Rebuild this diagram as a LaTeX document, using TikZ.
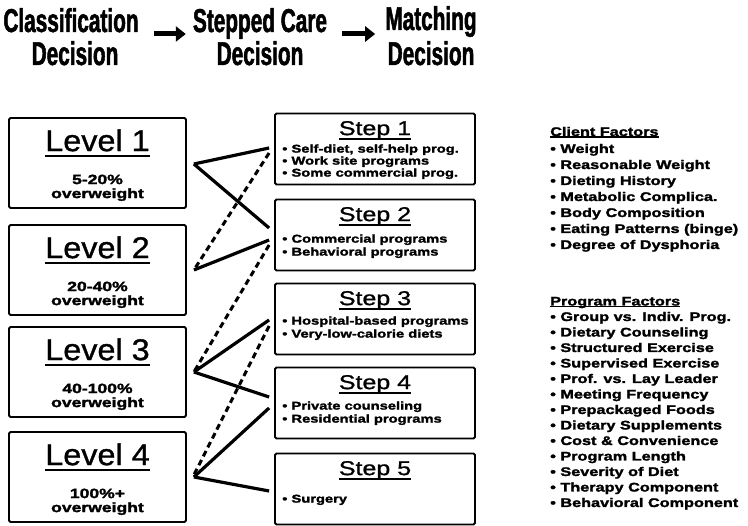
\documentclass[tikz,border=0pt]{standalone}
\usepackage{fontspec}
\setmainfont{Liberation Sans}
\newfontfamily\headfont[FakeStretch=0.63, BoldFeatures={FakeBold=1.5}]{Liberation Sans}
\newfontfamily\widefont[FakeStretch=1.3, BoldFeatures={FakeBold=2}]{Liberation Sans}
\newfontfamily\stepfont[FakeStretch=1.25, FakeBold=1]{Liberation Sans}
\newfontfamily\levelfont[FakeStretch=1.08, FakeBold=1]{Liberation Sans}
\usetikzlibrary{positioning,arrows.meta}
\newcommand{\ulbox}[3]{\setbox0\hbox{#3}\leavevmode\rlap{\rule[-#1]{\wd0}{#2}}\box0}
\tikzset{
    head/.style={font=\headfont\bfseries\fontsize{33}{36}\selectfont, inner sep=0pt, anchor=base},
    levelbox/.style={draw, line width=1.8pt, rounded corners=1.5pt, minimum width=177pt, minimum height=90pt},
    stepbox/.style={draw, line width=1.8pt, rounded corners=1.5pt, minimum width=200pt, minimum height=71pt},
    leveltitle/.style={font=\levelfont\fontsize{30}{32}\selectfont, inner sep=0pt, anchor=base},
    steptitle/.style={font=\stepfont\fontsize{20}{22}\selectfont, inner sep=0pt, anchor=base},
    pct/.style={font=\widefont\bfseries\fontsize{13.5}{14}\selectfont, inner sep=0pt, align=center, anchor=base},
    items/.style={font=\widefont\bfseries\fontsize{11.3}{13}\selectfont, inner sep=0pt, align=left, anchor=base west},
    factors/.style={font=\widefont\bfseries\fontsize{12.5}{16}\selectfont, inner sep=0pt, align=left, anchor=base west},
    link/.style={line width=3.2pt},
    dlink/.style={line width=3pt, dash pattern=on 6pt off 4pt},
    bigarrow/.style={line width=5pt, -{Triangle[length=10pt,width=15pt]}}
}
\begin{document}
\begin{tikzpicture}[x=1pt,y=-1pt]
\useasboundingbox (0,0) rectangle (748,526);
% headings
\node[head] (cls) at (71,32) {Classification};
\node[head] (clsd) at (75,65) {Decision};
\node[head] (ste) at (260,32) {Stepped Care};
\node[head] (sted) at (260,65) {Decision};
\node[head] (mat) at (431,30) {Matching};
\node[head] (matd) at (431,65) {Decision};
\draw[bigarrow] ([xshift=15pt,yshift=-2pt]cls.base east) -- ([xshift=-7pt,yshift=-2pt]ste.base west);
\draw[bigarrow] ([xshift=15pt,yshift=-2pt]ste.base east) -- ([xshift=-10pt,yshift=-4pt]mat.base west);
% levels
\node[levelbox] (lv1) at (97.5,163) {};
\node[levelbox] (lv2) at (97.5,270) {};
\node[levelbox] (lv3) at (97.5,372) {};
\node[levelbox] (lv4) at (97.5,477) {};
\foreach \n/\p in {1/5-20\%, 2/20-40\%, 3/40-100\%, 4/100\%+}{
    \node[leveltitle] (lv\n t) at ([yshift=-34pt]lv\n.north) {\ulbox{6pt}{2.5pt}{Level \n}};
    \node[pct] (lv\n p) at ([yshift=-81pt]lv\n.north) {\p\\overweight};
}
% steps
\node[stepbox] (st1) at (375,149) {};
\node[stepbox] (st2) at (375,235) {};
\node[stepbox] (st3) at (375,319) {};
\node[stepbox] (st4) at (375,403) {};
\node[stepbox] (st5) at (375,489) {};
\foreach \n in {1,...,5}
    \node[steptitle] (st\n t) at ([yshift=-22.5pt]st\n.north) {\ulbox{4.5pt}{2pt}{Step \n}};
\node[items, font=\widefont\bfseries\fontsize{11.3}{12}\selectfont] (st1i) at ([xshift=8pt,yshift=-64pt]st1.north west)
    {• Self-diet, self-help prog.\\• Work site programs\\• Some commercial prog.};
\node[items] (st2i) at ([xshift=8pt,yshift=-57pt]st2.north west)
    {• Commercial programs\\• Behavioral programs};
\node[items] (st3i) at ([xshift=8pt,yshift=-55pt]st3.north west)
    {• Hospital-based programs\\• Very-low-calorie diets};
\node[items] (st4i) at ([xshift=8pt,yshift=-56pt]st4.north west)
    {• Private counseling\\• Residential programs};
\node[items] (st5i) at ([xshift=8pt,yshift=-50pt]st5.north west)
    {• Surgery};
% factors
\node[factors] (client) at (550,249)
    {\ulbox{1.8pt}{1.4pt}{Client Factors}\\[1pt]• Weight\\• Reasonable Weight\\• Dieting History\\• Metabolic Complica.\\• Body Composition\\• Eating Patterns (binge)\\• Degree of Dysphoria};
\node[factors, font=\widefont\bfseries\fontsize{12.5}{15.5}\selectfont] (program) at (550,507)
    {\ulbox{1.8pt}{1.4pt}{Program Factors}\\• Group vs. Indiv. Prog.\\• Dietary Counseling\\• Structured Exercise\\• Supervised Exercise\\• Prof. vs. Lay Leader\\• Meeting Frequency\\• Prepackaged Foods\\• Dietary Supplements\\• Cost \& Convenience\\• Program Length\\• Severity of Diet\\• Therapy Component\\• Behavioral Component};
% edges
\foreach \n in {1,...,4}
    \coordinate (j\n) at ([xshift=7pt]lv\n.east);
\draw[link] ([yshift=-1pt]j1) -- ([xshift=-5pt,yshift=1pt]st1.west);
\draw[link] ([yshift=-1pt]j1) -- ([xshift=-5pt,yshift=7pt]st2.west);
\draw[link] (j2) -- ([xshift=-5pt,yshift=-5pt]st2.west);
\draw[dlink] ([xshift=-5pt,yshift=-4pt]st1.west) -- (j2);
\draw[dlink] ([xshift=-5pt,yshift=-10pt]st2.west) -- (j3);
\draw[link] (j3) -- ([xshift=-5pt,yshift=-1pt]st3.west);
\draw[link] (j3) -- ([xshift=-5pt,yshift=6pt]st4.west);
\draw[dlink] ([xshift=-5pt,yshift=-7pt]st3.west) -- ([yshift=2pt]j4);
\draw[link] (j4) -- ([xshift=-5pt,yshift=-5pt]st4.west);
\draw[link] (j4) -- ([xshift=-5pt,yshift=-2pt]st5.west);
\end{tikzpicture}
\end{document}
